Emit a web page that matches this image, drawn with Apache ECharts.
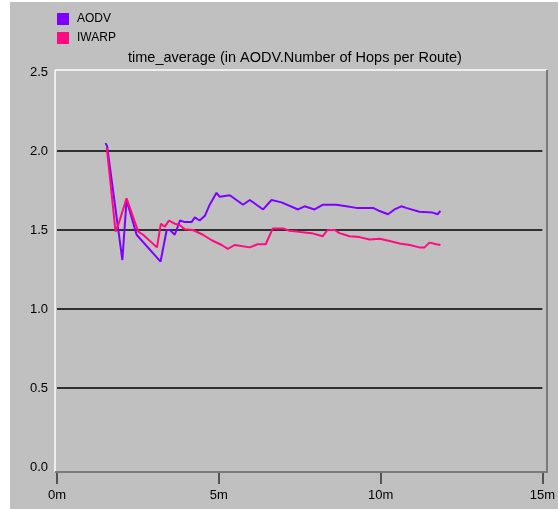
<!DOCTYPE html>
<html lang="en">
<head>
    <meta charset="UTF-8">
    <script src="https://cdn.jsdelivr.net/npm/echarts@6/dist/echarts.min.js"></script>
    <title>time_average</title>
    <style>
        html, body { margin: 0; padding: 0; background: #fff; }
        #chart { width: 558px; height: 509px; }
    </style>
</head>
<body>
<div id="chart"></div>
<script>
// time in minutes, value = average number of hops per route
var aodvTime  = [1.50, 1.55, 2.02, 2.15, 2.46, 3.20, 3.39, 3.49, 3.64, 3.80, 3.95, 4.16, 4.26, 4.41, 4.57, 4.72, 4.93, 5.03, 5.34, 5.75, 5.96, 6.37, 6.63, 6.94, 7.45, 7.65, 7.96, 8.22, 8.63, 8.94, 9.25, 9.45, 9.77, 9.97, 10.23, 10.43, 10.64, 10.79, 11.20, 11.61, 11.76, 11.85];
var aodvValue = [2.05, 2.03, 1.31, 1.69, 1.47, 1.30, 1.50, 1.50, 1.47, 1.56, 1.55, 1.55, 1.58, 1.56, 1.59, 1.66, 1.735, 1.71, 1.72, 1.66, 1.69, 1.63, 1.69, 1.675, 1.63, 1.65, 1.63, 1.66, 1.66, 1.65, 1.64, 1.64, 1.64, 1.62, 1.60, 1.63, 1.65, 1.64, 1.615, 1.61, 1.60, 1.62];

var iwarpTime  = [1.54, 1.81, 1.89, 2.15, 2.51, 2.66, 3.09, 3.21, 3.33, 3.46, 3.64, 3.80, 3.95, 4.20, 4.51, 4.78, 5.09, 5.28, 5.49, 5.96, 6.20, 6.45, 6.67, 6.98, 7.19, 7.41, 7.59, 7.87, 8.21, 8.36, 8.58, 8.73, 9.04, 9.35, 9.66, 9.97, 10.28, 10.59, 10.90, 11.20, 11.36, 11.51, 11.73, 11.85];
var iwarpValue = [2.02, 1.49, 1.53, 1.70, 1.49, 1.47, 1.39, 1.54, 1.52, 1.56, 1.54, 1.53, 1.505, 1.50, 1.47, 1.435, 1.405, 1.38, 1.405, 1.39, 1.41, 1.41, 1.51, 1.51, 1.495, 1.49, 1.485, 1.48, 1.46, 1.50, 1.50, 1.48, 1.46, 1.455, 1.44, 1.445, 1.43, 1.415, 1.405, 1.39, 1.39, 1.42, 1.41, 1.405];

var xTicks = [0, 5, 10, 15];
var yTicks = [0, 0.5, 1.0, 1.5, 2.0, 2.5];

function pairs(t, v) {
    var out = [];
    for (var i = 0; i < t.length; i++) out.push([t[i], v[i]]);
    return out;
}

var font = 'Liberation Sans';
var chart = echarts.init(document.getElementById('chart'));
chart.setOption({
    animation: false,
    backgroundColor: '#ffffff',
    textStyle: { fontFamily: font },
    graphic: [
        // grey panel, small white margin left/top
        { type: 'rect', z: -10, shape: { x: 10, y: 2, width: 548, height: 507 }, style: { fill: '#c0c0c0' } },
        // sunken frame round the plot (bottom edge is the x axis line)
        { type: 'line', z: 10, shape: { x1: 55, y1: 70, x2: 547, y2: 70 }, style: { stroke: '#eeeeee', lineWidth: 2 } },
        { type: 'line', z: 10, shape: { x1: 55, y1: 70, x2: 55, y2: 472 }, style: { stroke: '#eeeeee', lineWidth: 2 } },
        { type: 'line', z: 10, shape: { x1: 547, y1: 70, x2: 547, y2: 473 }, style: { stroke: '#7a7a7a', lineWidth: 2 } },
        { type: 'line', z: 10, shape: { x1: 55, y1: 472, x2: 547, y2: 472 }, style: { stroke: '#7a7a7a', lineWidth: 2 } }
    ],
    title: {
        text: 'time_average (in AODV.Number of Hops per Route)',
        left: 128,
        top: 50,
        padding: 0,
        textStyle: { fontFamily: font, fontSize: 14.5, fontWeight: 'normal', color: '#000' }
    },
    legend: {
        orient: 'vertical',
        left: 57,
        top: 13,
        padding: 0,
        itemWidth: 12,
        itemHeight: 12,
        itemGap: 7,
        icon: 'rect',
        textStyle: { fontFamily: font, fontSize: 12, color: '#000', padding: [0, 0, 0, 3] },
        data: ['AODV', 'IWARP']
    },
    grid: { left: 57, right: 15, top: 72, bottom: 42, containLabel: false },
    xAxis: {
        type: 'value',
        min: xTicks[0],
        max: xTicks[xTicks.length - 1],
        interval: 5,
        offset: 5,
        axisLine: { show: true, onZero: false, lineStyle: { color: '#7a7a7a', width: 2 } },
        axisTick: { show: true, inside: false, length: 12, lineStyle: { color: '#303030', width: 1.5 } },
        axisLabel: { margin: 17, fontFamily: font, fontSize: 13, color: '#000', formatter: '{value}m' },
        splitLine: { show: false }
    },
    yAxis: {
        type: 'value',
        min: yTicks[0],
        max: yTicks[yTicks.length - 1],
        interval: 0.5,
        axisLine: { show: false },
        axisTick: { show: false },
        axisLabel: { margin: 9, fontFamily: font, fontSize: 13, color: '#000', formatter: function (v) { return v.toFixed(1); } },
        splitLine: { show: true, showMinLine: false, showMaxLine: false, lineStyle: { color: '#000', width: 1.5 } }
    },
    series: [
        {
            name: 'AODV',
            type: 'line',
            showSymbol: false,
            color: '#8000ff',
            lineStyle: { width: 2 },
            data: pairs(aodvTime, aodvValue)
        },
        {
            name: 'IWARP',
            type: 'line',
            showSymbol: false,
            color: '#ff0a80',
            lineStyle: { width: 2 },
            data: pairs(iwarpTime, iwarpValue)
        }
    ]
});
</script>
</body>
</html>
